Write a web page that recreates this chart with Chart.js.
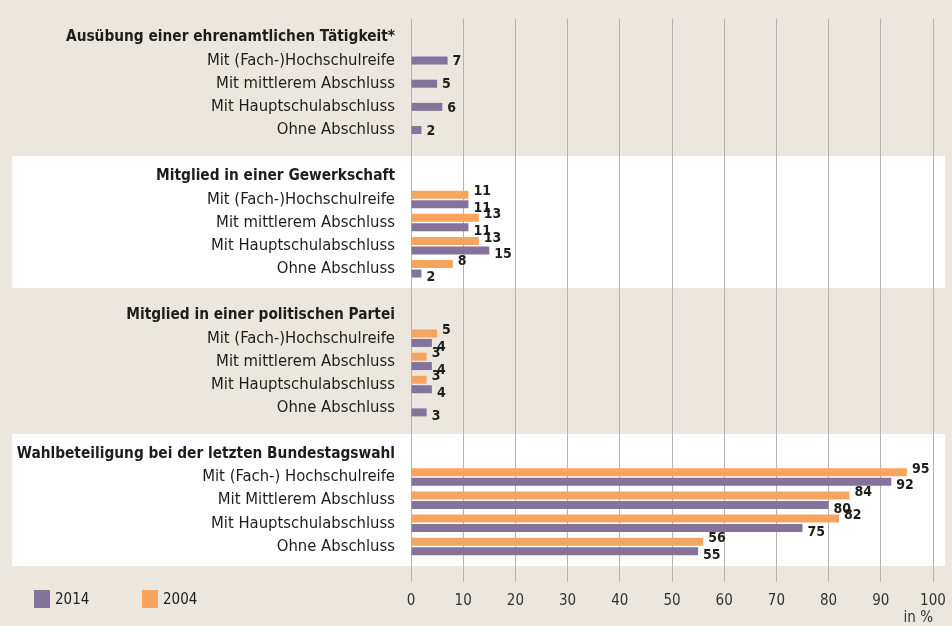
<!DOCTYPE html>
<html lang="de">
<head>
<meta charset="utf-8">
<title>Engagement nach Schulabschluss</title>
<script src="https://cdn.jsdelivr.net/npm/chart.js@4.4.1/dist/chart.umd.min.js"></script>
<style>
  html, body { margin: 0; padding: 0; background: #ebe7de; }
  #wrap { position: relative; width: 952px; height: 626px; }
  #legend {
    position: absolute; left: 34px; top: 590px;
    display: flex; font: 15px 'DejaVu Sans Condensed', 'Liberation Sans Narrow', Roboto, sans-serif;
    color: #1d1d1b;
  }
  #legend .item { display: flex; align-items: center; width: 108px; }
  #legend .box { width: 16px; height: 18px; margin-right: 5px; }
</style>
</head>
<body>
<div id="wrap">
  <canvas id="chart"></canvas>
  <div id="legend"></div>
</div>
<script>
const FONT = "'DejaVu Sans Condensed', 'Liberation Sans Narrow', Roboto, sans-serif";
const PURPLE = '#84739b';
const ORANGE = '#f7a55e';

// section headings
const sectionTitles = [
  'Ausübung einer ehrenamtlichen Tätigkeit*',
  'Mitglied in einer Gewerkschaft',
  'Mitglied in einer politischen Partei',
  'Wahlbeteiligung bei der letzten Bundestagswahl'
];

// rows inside each section
const schoolGroups = ['Mit (Fach-)Hochschulreife', 'Mit mittlerem Abschluss', 'Mit Hauptschulabschluss', 'Ohne Abschluss'];
const voteGroups = ['Mit (Fach-) Hochschulreife', 'Mit Mittlerem Abschluss', 'Mit Hauptschulabschluss', 'Ohne Abschluss'];

// values in %
const ehrenamt2014 = [7, 5, 6, 2];
const ehrenamt2004 = [null, null, null, null];
const gewerkschaft2014 = [11, 11, 15, 2];
const gewerkschaft2004 = [11, 13, 13, 8];
const partei2014 = [4, 4, 4, 3];
const partei2004 = [5, 3, 3, 0];
const wahl2014 = [92, 80, 75, 55];
const wahl2004 = [95, 84, 82, 56];

const xTicks = [0, 10, 20, 30, 40, 50, 60, 70, 80, 90, 100];

const sections = [
  { title: sectionTitles[0], groups: schoolGroups, v2014: ehrenamt2014, v2004: ehrenamt2004 },
  { title: sectionTitles[1], groups: schoolGroups, v2014: gewerkschaft2014, v2004: gewerkschaft2004 },
  { title: sectionTitles[2], groups: schoolGroups, v2014: partei2014, v2004: partei2004 },
  { title: sectionTitles[3], groups: voteGroups, v2014: wahl2014, v2004: wahl2004 }
];

// flatten into one category axis: heading, 4 rows, blank spacer between sections
const labels = [];
const data2014 = [];
const data2004 = [];
const headerRows = [];
sections.forEach((s, si) => {
  if (si > 0) { labels.push(''); data2014.push(null); data2004.push(null); }
  headerRows.push(labels.length);
  labels.push(s.title); data2014.push(null); data2004.push(null);
  s.groups.forEach((g, gi) => {
    labels.push(g);
    data2014.push(s.v2014[gi]);
    data2004.push(s.v2004[gi]);
  });
});

// white panels behind the 2nd and 4th section
const sectionPanels = {
  id: 'sectionPanels',
  beforeDraw(chart) {
    const { ctx } = chart;
    const y = chart.scales.y;
    const pitch = y.getPixelForValue(1) - y.getPixelForValue(0);
    ctx.save();
    ctx.fillStyle = '#ffffff';
    [1, 3].forEach(si => {
      const top = y.getPixelForValue(headerRows[si]) - pitch * 0.86;
      const bottom = y.getPixelForValue(headerRows[si] + 4) + pitch * 0.86;
      ctx.fillRect(12, Math.round(top), 933, Math.round(bottom - top));
    });
    ctx.restore();
  }
};

// numbers at the end of each bar
const valueLabels = {
  id: 'valueLabels',
  afterDatasetsDraw(chart) {
    const { ctx } = chart;
    const sets = chart.data.datasets;
    ctx.save();
    ctx.font = 'bold 14px ' + FONT;
    ctx.fillStyle = '#1d1d1b';
    ctx.textBaseline = 'middle';
    ctx.textAlign = 'left';
    sets.forEach((ds, di) => {
      chart.getDatasetMeta(di).data.forEach((bar, i) => {
        const v = ds.data[i];
        if (v === null || v === 0) return;
        const paired = sets.every(d => d.data[i] !== null);
        const dy = paired ? (di === 0 ? -3 : 4) : 1;
        ctx.fillText(String(v), bar.x + 5, bar.y + dy);
      });
    });
    ctx.restore();
  }
};

const chart = new Chart(document.getElementById('chart'), {
  type: 'bar',
  data: {
    labels: labels,
    datasets: [
      { label: '2004', data: data2004, backgroundColor: ORANGE, xAxisID: 'x' },
      { label: '2014', data: data2014, backgroundColor: PURPLE, xAxisID: 'x' }
    ]
  },
  options: {
    indexAxis: 'y',
    responsive: true,
    maintainAspectRatio: false,
    animation: false,
    skipNull: true,
    categoryPercentage: 0.82,
    barPercentage: 0.9,
    maxBarThickness: 8,
    layout: { padding: { left: 11, right: 19, top: 15, bottom: 0 } },
    plugins: {
      legend: { display: false },
      tooltip: { enabled: false }
    },
    scales: {
      x: {
        type: 'linear',
        position: 'bottom',
        min: 0,
        max: 100,
        afterBuildTicks: scale => { scale.ticks = xTicks.map(v => ({ value: v })); },
        afterFit: scale => {
          scale.height = 68;
          // the "100" label may hang into the right margin
          scale.paddingLeft = 0;
          scale.paddingRight = 0;
        },
        grid: { color: '#b3b3b3', lineWidth: 1, tickLength: 24 },
        border: { display: false },
        ticks: { color: '#333333', padding: 10, font: { family: FONT, size: 15 } },
        title: {
          display: true, text: 'in %', align: 'end', color: '#333333',
          padding: { top: 0, bottom: 0 }, font: { family: FONT, size: 15, lineHeight: 1 }
        }
      },
      xTop: {
        type: 'linear',
        position: 'top',
        min: 0,
        max: 100,
        afterBuildTicks: scale => { scale.ticks = xTicks.map(v => ({ value: v })); },
        afterFit: scale => { scale.height = 7; },
        grid: { color: '#b3b3b3', drawOnChartArea: false, tickLength: 7 },
        border: { display: false },
        ticks: { display: false }
      },
      y: {
        type: 'category',
        afterFit: scale => { scale.width = 400; },
        grid: { display: false, drawTicks: false },
        border: { display: false },
        ticks: {
          autoSkip: false,
          padding: 16,
          color: '#1d1d1b',
          font: ctx => headerRows.includes(ctx.index)
            ? { family: FONT, size: 15.3, weight: 'bold' }
            : { family: FONT, size: 16.5, weight: 'normal' }
        }
      }
    }
  },
  plugins: [sectionPanels, valueLabels]
});

// legend below the chart, 2014 first
const legendEl = document.getElementById('legend');
[...chart.data.datasets].reverse().forEach(ds => {
  const item = document.createElement('div');
  item.className = 'item';
  const box = document.createElement('span');
  box.className = 'box';
  box.style.background = ds.backgroundColor;
  const txt = document.createElement('span');
  txt.textContent = ds.label;
  item.appendChild(box);
  item.appendChild(txt);
  legendEl.appendChild(item);
});
</script>
</body>
</html>
